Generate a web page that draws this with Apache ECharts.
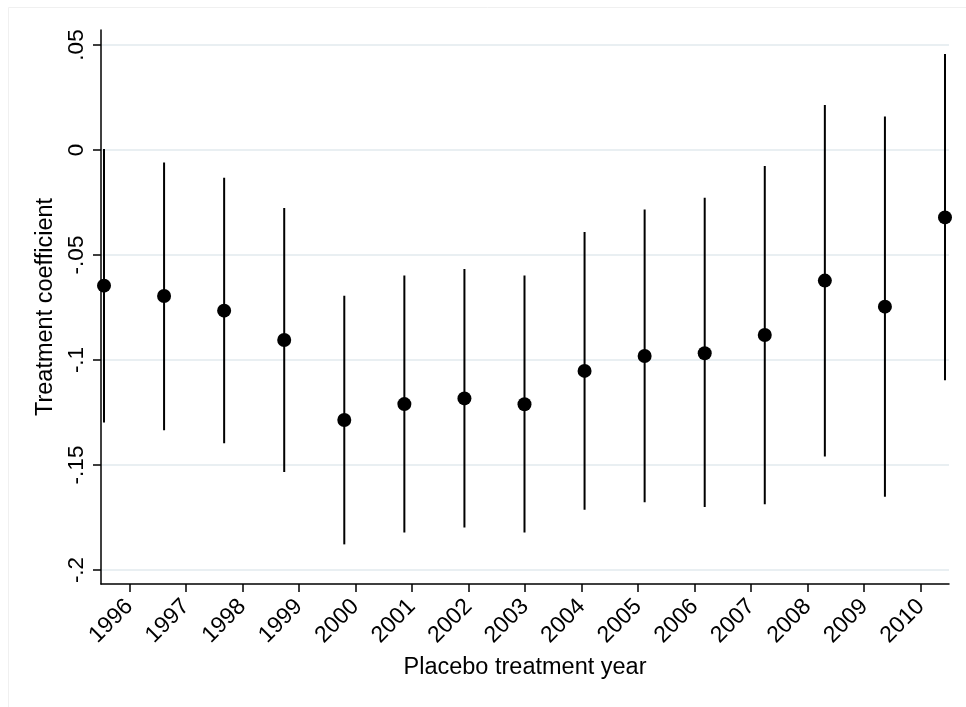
<!DOCTYPE html>
<html>
<head>
<meta charset="utf-8">
<script src="https://cdn.jsdelivr.net/npm/echarts@6/dist/echarts.min.js"></script>
<style>html,body{margin:0;padding:0;background:#fff}#c{width:966px;height:707px}</style>
</head>
<body>
<div id="c"></div>
<script>
// ---- data ----
const years = [1996,1997,1998,1999,2000,2001,2002,2003,2004,2005,2006,2007,2008,2009,2010];
const tickLabels = ['1996','1997','1998','1999','2000','2001','2002','2003','2004','2005','2006','2007','2008','2009','2010'];
const coef   = [-0.0646,-0.0695,-0.0765,-0.0905,-0.1286,-0.1210,-0.1183,-0.1211,-0.1052,-0.0981,-0.0968,-0.0881,-0.0622,-0.0746,-0.0321];
const ciHigh = [0.0005,-0.0060,-0.0132,-0.0276,-0.0694,-0.0598,-0.0567,-0.0598,-0.0390,-0.0283,-0.0227,-0.0076,0.0214,0.0159,0.0457];
const ciLow  = [-0.1298,-0.1335,-0.1397,-0.1533,-0.1878,-0.1821,-0.1798,-0.1822,-0.1713,-0.1678,-0.1700,-0.1687,-0.1460,-0.1651,-0.1097];
const yTicks = [-0.2,-0.15,-0.1,-0.05,0,0.05];

const FONT = '"Liberation Sans", Arial, Helvetica, sans-serif';
const fmtY = v => {
  if (Math.abs(v) < 1e-9) return '0';
  const s = String(+v.toFixed(4));
  return s.replace('0.', '.');
};

const chart = echarts.init(document.getElementById('c'), null, {renderer: 'canvas'});
chart.setOption({
  animation: false,
  backgroundColor: '#fff',
  graphic: [{
    type: 'rect', left: 6, top: 5, shape: {width: 1000, height: 760},
    style: {fill: 'none', stroke: '#f0f0f0', lineWidth: 1}, silent: true, z: -10
  }],
  grid: {left: 101, right: 17, top: 30, bottom: 123, containLabel: false},
  xAxis: [{
    type: 'category',
    data: tickLabels,
    boundaryGap: true,
    name: 'Placebo treatment year',
    nameLocation: 'middle',
    nameGap: 72,
    nameTextStyle: {fontFamily: FONT, fontSize: 23.5, color: '#000'},
    axisLine: {show: true, onZero: false, lineStyle: {color: '#000', width: 1.5}},
    axisTick: {show: true, alignWithLabel: true, length: 8, lineStyle: {color: '#000', width: 1.5}},
    axisLabel: {rotate: 45, margin: 19, fontFamily: FONT, fontSize: 23, color: '#000', interval: 0},
    splitLine: {show: false}
  }, {
    type: 'value',
    show: false,
    min: 1995.95,
    max: 2010.0667,
    splitLine: {show: false}
  }],
  yAxis: {
    type: 'value',
    min: -0.20667,
    max: 0.05714,
    name: 'Treatment coefficient',
    nameLocation: 'middle',
    nameRotate: 90,
    nameGap: 37,
    nameTextStyle: {fontFamily: FONT, fontSize: 23.5, color: '#000'},
    axisLine: {show: true, onZero: false, lineStyle: {color: '#000', width: 1.5}},
    axisTick: {show: true, length: 8, customValues: yTicks, lineStyle: {color: '#000', width: 1.5}},
    axisLabel: {customValues: yTicks, rotate: 90, margin: 13, fontFamily: FONT, fontSize: 22.5, color: '#000', formatter: fmtY},
    splitLine: {show: true, lineStyle: {color: '#e9eff2', width: 2}}
  },
  series: [{
    type: 'custom',
    xAxisIndex: 1,
    yAxisIndex: 0,
    encode: {x: 0, y: [1, 2]},
    data: years.map((y, i) => [y, ciLow[i], ciHigh[i]]),
    renderItem: function (params, api) {
      const p1 = api.coord([api.value(0), api.value(1)]);
      const p2 = api.coord([api.value(0), api.value(2)]);
      return {type: 'line', shape: {x1: p1[0], y1: p1[1], x2: p2[0], y2: p2[1]},
              style: {stroke: '#000', lineWidth: 2}};
    },
    z: 2
  }, {
    type: 'scatter',
    xAxisIndex: 1,
    yAxisIndex: 0,
    symbol: 'circle',
    symbolSize: 14,
    itemStyle: {color: '#000', opacity: 1},
    data: years.map((y, i) => [y, coef[i]]),
    z: 3
  }]
});
</script>
</body>
</html>
